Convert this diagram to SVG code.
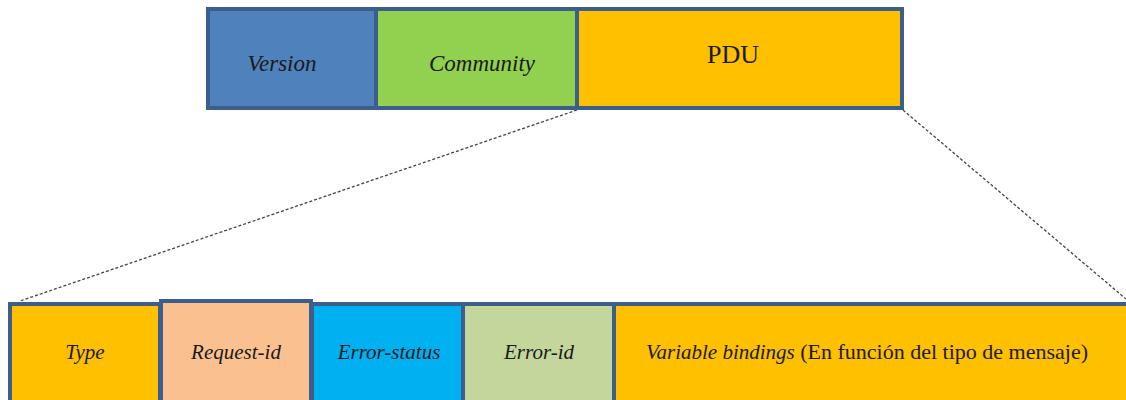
<svg xmlns="http://www.w3.org/2000/svg" width="1126" height="400" viewBox="0 0 1126 400">
  <style>
    .box { stroke: #3B5E8C; stroke-width: 4; }
    .lbl { fill: #1a1a1a; text-anchor: middle; }
    .it { font-style: italic; }
    .conn { stroke: #444; stroke-width: 1.3; stroke-dasharray: 3 2; fill: none; }
  </style>
  <rect width="1126" height="400" fill="#ffffff"/>

  <!-- connectors expanding the PDU field -->
  <g id="connectors">
    <line class="conn" x1="577" y1="110" x2="20" y2="301"/>
    <line class="conn" x1="903" y1="110" x2="1126" y2="299"/>
  </g>

  <g font-family="'Liberation Serif', 'DejaVu Serif', serif">
    <!-- SNMP message header -->
    <g id="version">
      <rect class="box" x="208" y="9" width="168" height="99" fill="#4F81BD"/>
      <text class="lbl it" x="282" y="71" font-size="23">Version</text>
    </g>
    <g id="community">
      <rect class="box" x="376" y="9" width="201" height="99" fill="#92D050"/>
      <text class="lbl it" x="482" y="71" font-size="23">Community</text>
    </g>
    <g id="pdu">
      <rect class="box" x="577" y="9" width="325" height="99" fill="#FFC000"/>
      <text class="lbl" x="733" y="63" font-size="26">PDU</text>
    </g>

    <!-- PDU fields -->
    <g id="type">
      <rect class="box" x="10" y="304" width="150" height="110" fill="#FFC000"/>
      <text class="lbl it" x="85" y="359" font-size="21">Type</text>
    </g>
    <g id="request-id">
      <rect class="box" x="161" y="301" width="150" height="113" fill="#FAC090"/>
      <text class="lbl it" x="236" y="359" font-size="21">Request-id</text>
    </g>
    <g id="error-status">
      <rect class="box" x="312" y="304" width="151" height="110" fill="#00B0F0"/>
      <text class="lbl it" x="389" y="359" font-size="21">Error-status</text>
    </g>
    <g id="error-id">
      <rect class="box" x="463" y="304" width="151" height="110" fill="#C3D69B"/>
      <text class="lbl it" x="539" y="359" font-size="21">Error-id</text>
    </g>
    <g id="variable-bindings">
      <rect class="box" x="614" y="304" width="530" height="110" fill="#FFC000"/>
      <text class="lbl" x="867" y="359" font-size="22"><tspan font-style="italic" font-size="21">Variable bindings</tspan> (En función del tipo de mensaje)</text>
    </g>
  </g>
</svg>
